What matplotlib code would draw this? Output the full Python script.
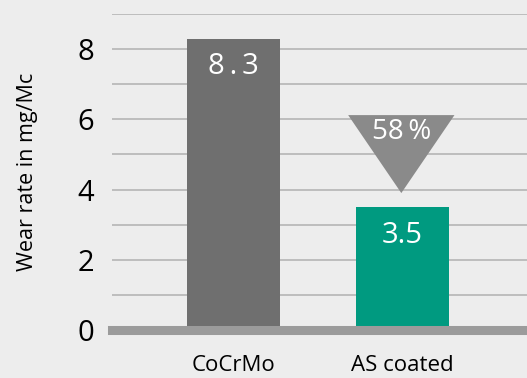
import matplotlib.pyplot as plt
from matplotlib.patches import Polygon

plt.rcParams['font.family'] = ['Open Sans', 'DejaVu Sans']

# data
materials = ['CoCrMo', 'AS coated']
wear_rate = [8.3, 3.5]
value_labels = ['8\u2009.\u20093', '3.5']
bar_colors = ['#6f6f6f', '#009a80']
reduction = round((1 - wear_rate[1] / wear_rate[0]) * 100)

bg = '#ededed'
fig = plt.figure(figsize=(5.27, 3.78), dpi=100, facecolor=bg)
ax = fig.add_axes([0.2125, 0.127, 0.7875, 0.836], facecolor=bg)

x = list(range(len(materials)))
ax.bar(x, wear_rate, width=0.55, color=bar_colors, zorder=2)

ax.set_ylim(0, 9)
ax.set_xlim(-0.72, 1.74)
ax.set_yticks(range(0, 10))
ax.set_yticklabels([str(v) if v % 2 == 0 and v < 9 else '' for v in range(10)], fontsize=21)
ax.yaxis.grid(True, color='#b5b5b5', linewidth=1.2, zorder=0)
ax.tick_params(axis='y', length=0, pad=13)
ax.tick_params(axis='x', length=0, pad=18)
ax.set_xticks(x)
ax.set_xticklabels(materials, fontsize=16)
for s in ax.spines.values():
    s.set_visible(False)

# dicke Nulllinie
ax.axhline(0, color='#9b9b9b', linewidth=6.5, zorder=3, clip_on=False)

ax.set_ylabel('Wear rate in mg/Mc', fontsize=15.5, labelpad=28)

# Werte in den Balken
for xi, lab, yv in zip(x, value_labels, wear_rate):
    ax.text(xi, yv - 0.8, lab, color='white', fontsize=21, ha='center', va='center', zorder=4)

# Dreieck mit Reduktion
tri = Polygon([[0.68, 6.12], [1.31, 6.12], [0.995, 3.9]], closed=True,
              facecolor='#8a8a8a', edgecolor='none', zorder=3)
ax.add_patch(tri)
ax.text(0.995, 5.65, f'{reduction}\u2009%', color='white', fontsize=20,
        ha='center', va='center', zorder=4)

fig.savefig('out.png', dpi=100, facecolor=bg)
